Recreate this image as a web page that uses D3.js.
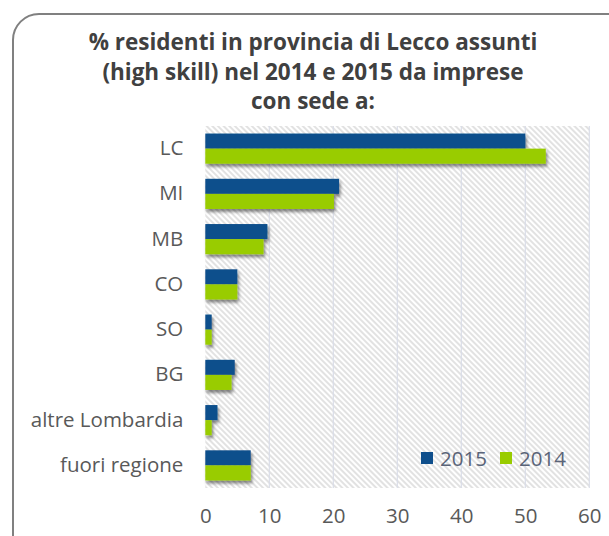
<!DOCTYPE html>
<html><head><meta charset="utf-8">
<script src="https://cdn.jsdelivr.net/npm/d3@7"></script>
<style>body{margin:0;background:#fff}svg{display:block}</style>
</head><body>
<svg id="c" width="609" height="536"></svg>
<script>
const categories = ["LC","MI","MB","CO","SO","BG","altre Lombardia","fuori regione"];
const values2015 = [50, 20.9, 9.7, 5, 1, 4.6, 1.9, 7.1];
const values2014 = [53.2, 20.1, 9.1, 5, 1, 4.1, 1, 7.1];
const seriesNames = ["2015","2014"];
const xTicks = [0,10,20,30,40,50,60];
const titleLines = ["% residenti in provincia di Lecco assunti","(high skill) nel 2014 e 2015 da imprese","con sede a:"];

(function(){
const colors = {"2015":"#0f4f8c","2014":"#99cc00"};
const font = "'Open Sans', sans-serif";
const svg = d3.select("#c");
const defs = svg.append("defs");
const pat = defs.append("pattern").attr("id","hatch").attr("patternUnits","userSpaceOnUse")
  .attr("width",4).attr("height",4).attr("patternTransform","rotate(-45)");
pat.append("rect").attr("width",4).attr("height",4).attr("fill","#fff");
pat.append("line").attr("x1",1).attr("y1",0).attr("x2",1).attr("y2",4)
  .attr("stroke","#d6d6d6").attr("stroke-width",1.4);
const f = defs.append("filter").attr("id","sh").attr("x","-10%").attr("y","-20%").attr("width","130%").attr("height","180%");
f.append("feDropShadow").attr("dx",1.5).attr("dy",3).attr("stdDeviation",1.8)
  .attr("flood-color","#000").attr("flood-opacity",0.45);

svg.append("rect").attr("x",13).attr("y",14).attr("width",640).attr("height",560)
  .attr("rx",26).attr("ry",26).attr("fill","#fff").attr("stroke","#808080").attr("stroke-width",2);

svg.append("g").selectAll("text").data(titleLines).join("text")
  .attr("x",313).attr("y",(d,i)=>50+i*29.5).attr("text-anchor","middle")
  .attr("font-family",font).attr("font-weight","bold").attr("font-size",22.5)
  .attr("fill","#404040").text(d=>d);

const pL=205.3, pR=589.3, pT=126, pB=488;
const x = d3.scaleLinear().domain([0,60]).range([pL,pR]);
const y = d3.scaleBand().domain(categories).range([pT,pB]).paddingInner(1/3).paddingOuter(1/6);
const ys = d3.scaleBand().domain(seriesNames).range([0,y.bandwidth()]);

svg.append("rect").attr("x",pL).attr("y",pT).attr("width",pR-pL).attr("height",pB-pT).attr("fill","url(#hatch)");

svg.append("g").selectAll("line").data(xTicks.slice(1)).join("line")
  .attr("x1",d=>x(d)).attr("x2",d=>x(d)).attr("y1",pT).attr("y2",pB)
  .attr("stroke","#dadde8").attr("stroke-width",1.2);

const data = categories.map((c,i)=>({c, v:{"2015":values2015[i],"2014":values2014[i]}}));
const g = svg.append("g").attr("filter","url(#sh)");
data.forEach(d=>{
  seriesNames.forEach(s=>{
    g.append("rect").attr("x",x(0)).attr("y",y(d.c)+ys(s))
      .attr("width",x(d.v[s])-x(0)).attr("height",ys.bandwidth()).attr("fill",colors[s]);
  });
});

const yAxis = d3.axisLeft(y).tickSize(0).tickPadding(22);
const ya = svg.append("g").attr("transform",`translate(${pL},0)`).call(yAxis);
ya.select(".domain").remove();
ya.selectAll("text").attr("font-family",font).attr("font-size",20.5).attr("fill","#595959");

const xAxis = d3.axisBottom(x).tickValues(xTicks).tickSize(0).tickPadding(0);
const xa = svg.append("g").attr("transform",`translate(0,${pB+20})`).call(xAxis);
xa.select(".domain").remove();
xa.selectAll("text").attr("font-family",font).attr("font-size",20.5).attr("fill","#595959");

const lg = svg.append("g").attr("transform","translate(421,452)");
const li = lg.selectAll("g").data(seriesNames).join("g").attr("transform",(d,i)=>`translate(${i*79},0)`);
li.append("rect").attr("width",12).attr("height",12).attr("fill",d=>colors[d]);
li.append("text").attr("x",19).attr("y",13.5).attr("font-family",font).attr("font-size",20.5)
  .attr("fill","#5a6478").text(d=>d);
})();
</script>
</body></html>
